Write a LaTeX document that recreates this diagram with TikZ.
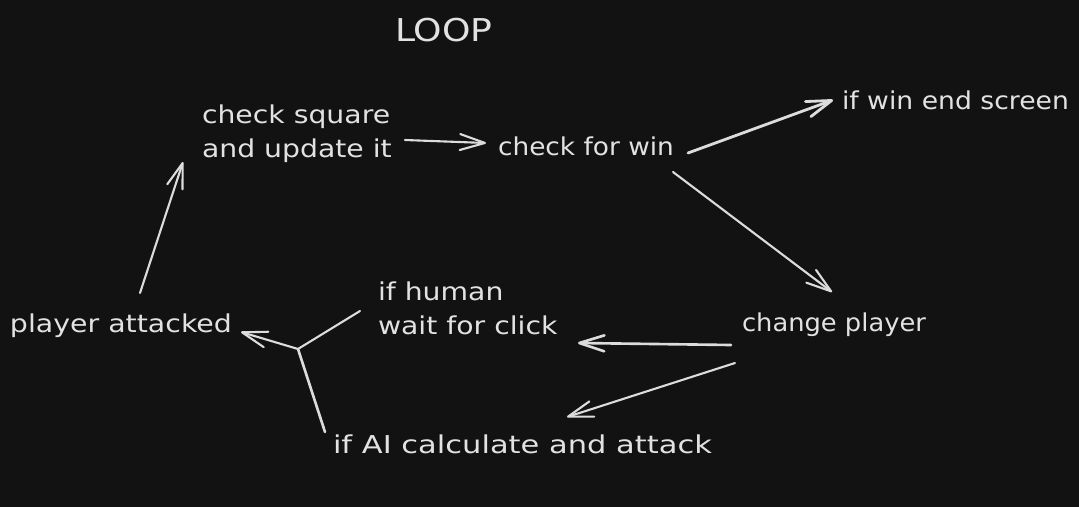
\documentclass[tikz,border=0pt]{standalone}
\usepackage{fontspec}
\usepackage{graphicx}
\setmainfont{DejaVu Sans}[FakeStretch=1.15]
\usetikzlibrary{arrows.meta,calc}
\definecolor{bg}{HTML}{121212}
\definecolor{ink}{HTML}{DCDCDC}
\definecolor{txt}{HTML}{E2E2E2}
\newcommand{\fitw}[2]{\resizebox{#1}{\height}{#2}}
\begin{document}
\begin{tikzpicture}[x=0.02cm,y=-0.02cm,
  lbl/.style={inner sep=0pt, outer sep=0pt, text=txt, font=\fontsize{14}{19.3}\selectfont, anchor=base west, align=left},
  conn/.style={draw=ink, line width=1.2pt, line cap=round, line join=round},
  arr/.style={conn, -{Straight Barb[length=5mm,width=3.2mm,line cap=round,line join=round]}}]
\fill[bg] (0,0) rectangle (1079,507);
\useasboundingbox (0,0) rectangle (1079,507);

\node[lbl, font=\fontsize{17.9}{20}\selectfont] (loop) at (395,41) {LOOP};
\node[lbl] (csq) at (202,157) {check square\\and update it};
\node[lbl] (cfw) at (498,155) {\fitw{3.52cm}{check for win}};
\node[lbl] (iwe) at (842,109) {\fitw{4.54cm}{if win end screen}};
\node[lbl] (chp) at (742,331) {\fitw{3.68cm}{change player}};
\node[lbl] (hum) at (378,334) {if human\\wait for click};
\node[lbl] (ai) at (333,453) {\fitw{7.58cm}{if AI calculate and attack}};
\node[lbl] (pla) at (10,332) {\fitw{4.44cm}{player attacked}};
\coordinate (J) at (298,349);

\draw[arr] ($(csq.base west)+(203,-17)$) -- ($(cfw.base west)+(-12,-12)$);
\draw[arr, line width=1.6pt] ($(cfw.base west)+(190,-2)$) -- ($(iwe.base west)+(-9,-9)$);
\draw[arr] ($(cfw.base west)+(175,17)$) -- ($(chp.base west)+(90,-39)$);
\draw[arr, line width=1.5pt] ($(chp.base west)+(-11,14)$) -- ($(hum.base west)+(200,9)$);
\draw[arr] ($(chp.base west)+(-7,32)$) -- ($(ai.base west)+(234,-36)$);
\draw[conn] ($(hum.base west)+(-18,-23)$) -- (J);
\draw[conn, line width=1.5pt] ($(ai.base west)+(-8,-21)$) -- (J);
\draw[arr] (J) -- ($(pla.base west)+(231,0)$);
\draw[arr] ($(pla.base west)+(130,-39)$) -- ($(csq.base west)+(-19,5)$);
\end{tikzpicture}
\end{document}
